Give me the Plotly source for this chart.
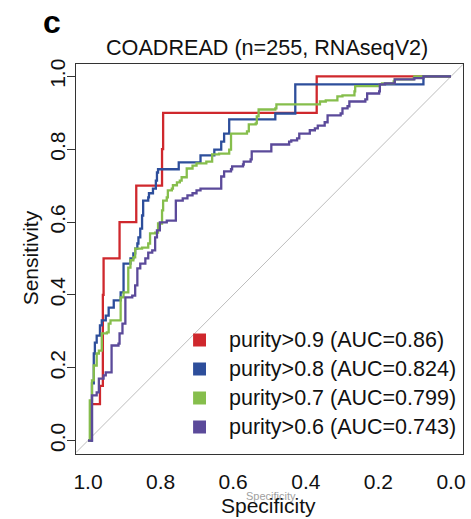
import plotly.graph_objects as go

# ROC curves (specificity, sensitivity) for four tumour-purity cut-offs.
# Each pair is a corner of the step curve: at that specificity the
# sensitivity rises to the given value.
RED_SPEC = [1.0, 0.992, 0.967, 0.959, 0.957, 0.913, 0.867, 0.796, 0.793, 0.370, 0.0]
RED_SENS = [0.0, 0.10, 0.15, 0.40, 0.50, 0.60, 0.70, 0.80, 0.90, 1.00, 1.00]

BLUE_SPEC = [1.0, 0.989, 0.984, 0.981, 0.976, 0.967, 0.962, 0.951, 0.943, 0.929,
             0.910, 0.902, 0.883, 0.875, 0.870, 0.864, 0.861, 0.856, 0.851, 0.848,
             0.834, 0.832, 0.821, 0.813, 0.810, 0.807, 0.750, 0.690, 0.652, 0.633,
             0.625, 0.611, 0.484, 0.429, 0.076, 0.0]
BLUE_SENS = [0.0, 0.157, 0.239, 0.269, 0.288, 0.316, 0.330, 0.343, 0.365, 0.385,
             0.407, 0.486, 0.500, 0.514, 0.527, 0.541, 0.558, 0.582, 0.618, 0.659,
             0.668, 0.679, 0.692, 0.714, 0.736, 0.745, 0.764, 0.783, 0.799, 0.821,
             0.843, 0.882, 0.898, 0.978, 1.0, 1.0]

GREEN_SPEC = [1.0, 0.995, 0.989, 0.984, 0.976, 0.970, 0.962, 0.948, 0.943, 0.938,
              0.910, 0.902, 0.889, 0.883, 0.875, 0.870, 0.851, 0.834, 0.829, 0.815,
              0.807, 0.796, 0.793, 0.783, 0.780, 0.769, 0.766, 0.755, 0.747, 0.742,
              0.728, 0.712, 0.701, 0.674, 0.658, 0.639, 0.611, 0.606, 0.562, 0.557,
              0.538, 0.535, 0.530, 0.484, 0.481, 0.361, 0.345, 0.313, 0.299, 0.266,
              0.264, 0.196, 0.190, 0.158, 0.155, 0.103, 0.101, 0.0]
GREEN_SENS = [0.0, 0.110, 0.165, 0.206, 0.239, 0.247, 0.294, 0.297, 0.321, 0.330,
              0.393, 0.407, 0.475, 0.495, 0.503, 0.527, 0.530, 0.541, 0.569, 0.571,
              0.596, 0.632, 0.659, 0.668, 0.687, 0.692, 0.701, 0.709, 0.714, 0.723,
              0.747, 0.755, 0.761, 0.766, 0.786, 0.788, 0.799, 0.843, 0.849, 0.868,
              0.871, 0.890, 0.909, 0.912, 0.923, 0.931, 0.934, 0.945, 0.948, 0.959,
              0.973, 0.978, 0.981, 0.986, 0.992, 0.995, 1.0, 1.0]

PURPLE_SPEC = [1.0, 0.989, 0.976, 0.970, 0.957, 0.951, 0.935, 0.916, 0.913, 0.905,
               0.897, 0.878, 0.870, 0.864, 0.856, 0.842, 0.834, 0.823, 0.815, 0.810,
               0.802, 0.783, 0.758, 0.739, 0.726, 0.712, 0.701, 0.690, 0.633, 0.625,
               0.606, 0.603, 0.573, 0.571, 0.552, 0.549, 0.495, 0.446, 0.440, 0.424,
               0.418, 0.389, 0.375, 0.367, 0.348, 0.340, 0.304, 0.299, 0.285, 0.280,
               0.236, 0.231, 0.198, 0.196, 0.182, 0.155, 0.101, 0.076, 0.0]
PURPLE_SENS = [0.0, 0.124, 0.132, 0.170, 0.179, 0.187, 0.261, 0.266, 0.294, 0.321,
               0.393, 0.398, 0.426, 0.473, 0.486, 0.500, 0.516, 0.522, 0.558, 0.577,
               0.599, 0.604, 0.659, 0.665, 0.673, 0.679, 0.687, 0.692, 0.725, 0.739,
               0.745, 0.753, 0.758, 0.766, 0.772, 0.794, 0.813, 0.821, 0.824, 0.830,
               0.843, 0.852, 0.857, 0.865, 0.874, 0.893, 0.898, 0.912, 0.918, 0.931,
               0.937, 0.953, 0.959, 0.978, 0.981, 0.992, 0.995, 1.0, 1.0]

LABELS = ["purity>0.9 (AUC=0.86)", "purity>0.8 (AUC=0.824)",
          "purity>0.7 (AUC=0.799)", "purity>0.6 (AUC=0.743)"]
COLORS = ["#CF282D", "#2D4E9B", "#86BE4C", "#5B4A9A"]
TICKS = [1.0, 0.8, 0.6, 0.4, 0.2, 0.0]
TICK_TEXT = ["1.0", "0.8", "0.6", "0.4", "0.2", "0.0"]
TITLE = "COADREAD (n=255, RNAseqV2)"
PANEL = "c"

FONT = "Liberation Sans, Arial, Helvetica, sans-serif"
W, H = 471, 519
L, R, T, B = 76, 5, 64, 65
PW, PH = W - L - R, H - T - B


def px(x):
    return (x - L) / PW


def py(y):
    return (H - B - y) / PH


curves = [(RED_SPEC, RED_SENS), (BLUE_SPEC, BLUE_SENS),
          (GREEN_SPEC, GREEN_SENS), (PURPLE_SPEC, PURPLE_SENS)]

fig = go.Figure()

XR = [1.033, -0.033]
YR = [-0.037, 1.034]

# chance diagonal
fig.add_trace(go.Scatter(x=[XR[0], XR[1]], y=[1 - XR[0], 1 - XR[1]], mode="lines",
                         line=dict(color="#BDBDBD", width=1), hoverinfo="skip",
                         showlegend=False))

for (sx, sy), col, lab in zip(curves, COLORS, LABELS):
    fig.add_trace(go.Scatter(x=sx, y=sy, mode="lines", line_shape="hv",
                             line=dict(color=col, width=2.3), name=lab,
                             showlegend=False))

# legend: filled squares with labels
ann = []
shapes = []
rows_y = [340, 369, 398, 427]
for yy, col, lab in zip(rows_y, COLORS, LABELS):
    shapes.append(dict(type="rect", xref="paper", yref="paper",
                       x0=px(194), x1=px(207), y0=py(yy + 6.5), y1=py(yy - 6.5),
                       fillcolor=col, line=dict(width=0)))
    ann.append(dict(text=lab, x=px(228), y=py(yy), xref="paper", yref="paper",
                    xanchor="left", yanchor="middle", showarrow=False,
                    font=dict(size=21.5, color="#111", family=FONT)))

ann += [
    dict(text=TITLE, x=px(268), y=py(47.5), xref="paper", yref="paper",
         xanchor="center", yanchor="middle", showarrow=False,
         font=dict(size=21.6, color="#111", family=FONT)),
    dict(text="<b>" + PANEL + "</b>", x=px(52), y=py(22), xref="paper", yref="paper",
         xanchor="center", yanchor="middle", showarrow=False,
         font=dict(size=32, color="#000", family=FONT)),
    dict(text="Specificity", x=px(273), y=py(496), xref="paper", yref="paper",
         xanchor="center", yanchor="middle", showarrow=False,
         font=dict(size=11, color="#a0a0a0", family=FONT)),
    dict(text="Specificity", x=px(270), y=py(505), xref="paper", yref="paper",
         xanchor="center", yanchor="middle", showarrow=False,
         font=dict(size=21, color="#111", family=FONT)),
    dict(text="Sensitivity", x=px(30), y=py(258), xref="paper", yref="paper",
         xanchor="center", yanchor="middle", showarrow=False, textangle=-90,
         font=dict(size=21, color="#111", family=FONT)),
]

fig.update_layout(
    width=W, height=H,
    margin=dict(l=L, r=R, t=T, b=B),
    paper_bgcolor="white", plot_bgcolor="white",
    showlegend=False,
    annotations=ann, shapes=shapes,
    xaxis=dict(range=XR, tickvals=TICKS, ticktext=TICK_TEXT, showgrid=False,
               zeroline=False, showline=True, mirror=True, linecolor="#333",
               linewidth=1, ticks="", ticklabelstandoff=9,
               tickfont=dict(size=21, color="#111", family=FONT)),
    yaxis=dict(range=YR, tickvals=TICKS, ticktext=TICK_TEXT, showgrid=False,
               zeroline=False, showline=True, mirror=True, linecolor="#333",
               linewidth=1, ticks="outside", ticklen=8, tickcolor="#333",
               tickangle=-90, ticklabelstandoff=-6,
               tickfont=dict(size=21, color="#111", family=FONT)),
)

fig.write_html("out.html")
